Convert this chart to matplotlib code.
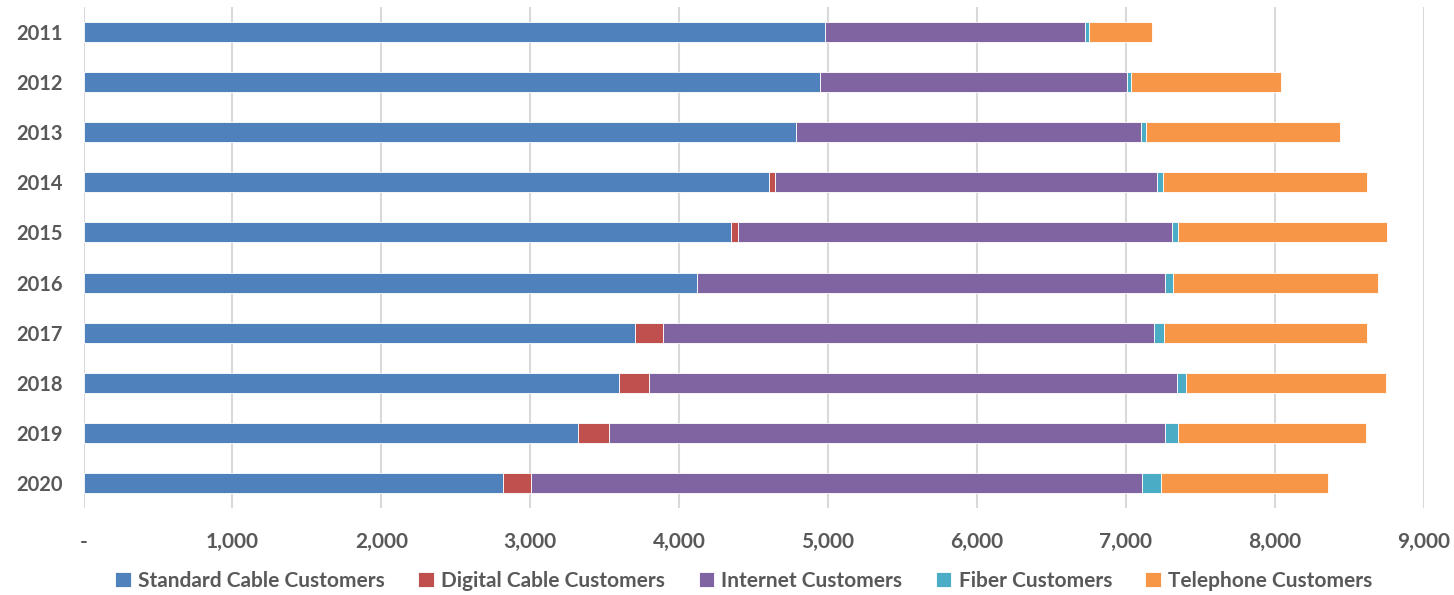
import matplotlib
matplotlib.use("Agg")
import matplotlib.pyplot as plt
import numpy as np

# customer counts per year, stacked left to right
years = ["2011", "2012", "2013", "2014", "2015", "2016", "2017", "2018", "2019", "2020"]
standard_cable = [4980, 4946, 4785, 4606, 4351, 4122, 3706, 3598, 3323, 2819]
digital_cable = [0, 0, 0, 38, 47, 0, 188, 202, 208, 188]
internet = [1748, 2064, 2319, 2568, 2910, 3143, 3295, 3546, 3734, 4104]
fiber = [25, 27, 34, 38, 41, 54, 65, 60, 88, 127]
telephone = [423, 1005, 1303, 1372, 1403, 1375, 1366, 1341, 1258, 1120]

series = [
    ("Standard Cable Customers", standard_cable, "#4F81BD"),
    ("Digital Cable Customers", digital_cable, "#C0504D"),
    ("Internet Customers", internet, "#8064A2"),
    ("Fiber Customers", fiber, "#4BACC6"),
    ("Telephone Customers", telephone, "#F79646"),
]

plt.rcParams["font.family"] = ["Lato", "DejaVu Sans"]
text_color = "#595959"

fig = plt.figure(figsize=(14.54, 5.95), dpi=100)
ax = fig.add_axes([83.5 / 1454, 1 - 508 / 595, (1423.6 - 83.5) / 1454, 501 / 595])

y = np.arange(len(years))
left = np.zeros(len(years))
for name, vals, color in series:
    vals = np.array(vals, dtype=float)
    ax.barh(y, vals, left=left, height=0.4, color=color, label=name,
            edgecolor="white", linewidth=0.6, zorder=3)
    left += vals

ax.set_xlim(0, 9000)
ax.set_ylim(len(years) - 0.5, -0.5)
ax.set_yticks(y)
ax.set_yticklabels(years)
ticks = np.arange(0, 9001, 1000)
ax.set_xticks(ticks)
ax.set_xticklabels(["-"] + [f"{t:,}" for t in ticks[1:]])

ax.grid(axis="x", color="#d9d9d9", linewidth=1.5, zorder=0)
for s in ax.spines.values():
    s.set_visible(False)
ax.tick_params(axis="both", length=0, labelcolor=text_color)
ax.tick_params(axis="x", labelsize=15, pad=17)
ax.tick_params(axis="y", labelsize=14.5, pad=15)
for lbl in ax.get_xticklabels() + ax.get_yticklabels():
    lbl.set_fontweight("bold")

fig.legend(loc="center", bbox_to_anchor=(744 / 1454, 1 - 581 / 595), ncol=5,
           frameon=False, handlelength=0.75, handleheight=0.75, handletextpad=0.35,
           columnspacing=1.6, prop={"size": 15, "weight": "bold"},
           labelcolor=text_color)

fig.savefig("out.png", dpi=100)
